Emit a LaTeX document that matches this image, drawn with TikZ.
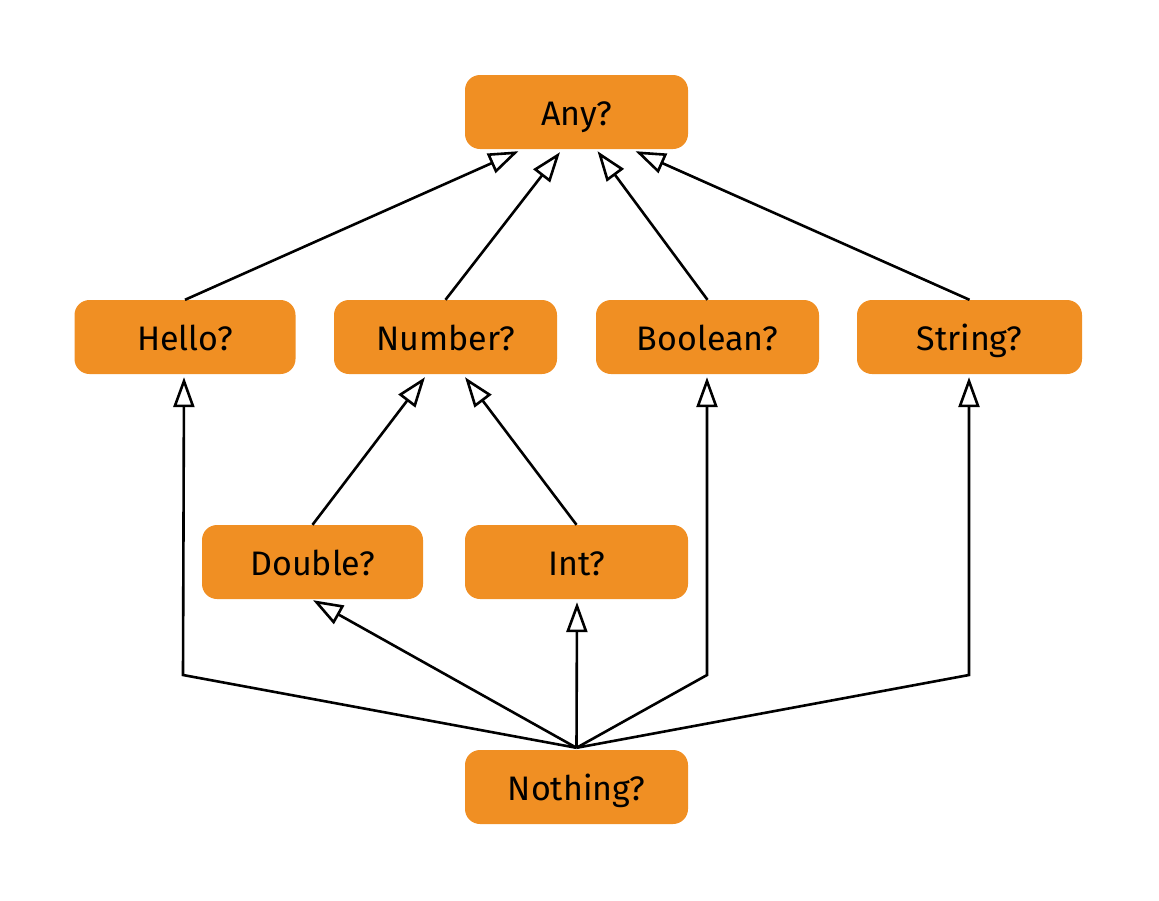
\documentclass[tikz,border=0pt]{standalone}
\usepackage{fontspec}
\setmainfont{Fira Sans}
\usetikzlibrary{arrows.meta}
\definecolor{boxorange}{RGB}{240,143,35}
\begin{document}
\begin{tikzpicture}[x=1pt,y=-1pt,
  tbox/.style={fill=boxorange, draw=none, rounded corners=15pt,
    minimum width=223pt, minimum height=74pt, inner sep=0pt,
    text height=30pt, text depth=4pt,
    font=\fontsize{34}{40}\selectfont},
  inh/.style={line width=2.6pt, -{Triangle[open,length=30pt,width=21pt,line width=2.6pt]}},
]
\useasboundingbox (0,0) rectangle (1159,900);
\node[tbox] (any) at (576.5,112) {Any?};
\node[tbox, minimum width=221pt] (hello) at (185,337) {Hello?};
\node[tbox] (number) at (445.5,337) {Number?};
\node[tbox] (boolean) at (707.5,337) {Boolean?};
\node[tbox, minimum width=225pt] (string) at (969.5,337) {String?};
\node[tbox, minimum width=221pt] (double) at (312.5,562) {Double?};
\node[tbox] (int) at (576.5,562) {Int?};
\node[tbox] (nothing) at (576.5,787) {Nothing?};
\coordinate (src) at ([yshift=2pt]nothing.north);
\coordinate (jh) at (183,675);
\coordinate (jb) at (707,675);
\coordinate (js) at (969,675);
% to Any
\draw[inh] (hello.north) -- ([xshift=-58pt,yshift=-2pt]any.south);
\draw[inh] (number.north) -- ([xshift=-16.5pt,yshift=-3pt]any.south);
\draw[inh] (boolean.north) -- ([xshift=21pt,yshift=-2pt]any.south);
\draw[inh] (string.north) -- ([xshift=59pt,yshift=-2pt]any.south);
% to Number
\draw[inh] (double.north) -- ([xshift=-20.5pt,yshift=-3pt]number.south);
\draw[inh] (int.north) -- ([xshift=19.5pt,yshift=-3pt]number.south);
% from Nothing
\draw[inh] (src) -- (jh) -- ([xshift=-1pt,yshift=-3pt]hello.south);
\draw[inh] (src) -- ([xshift=0.5pt,yshift=-1pt]double.south);
\draw[inh] (src) -- ([xshift=0.5pt,yshift=-3pt]int.south);
\draw[inh] (src) -- (jb) -- ([xshift=-0.5pt,yshift=-3pt]boolean.south);
\draw[inh] (src) -- (js) -- ([xshift=-0.5pt,yshift=-3pt]string.south);
\end{tikzpicture}
\end{document}
